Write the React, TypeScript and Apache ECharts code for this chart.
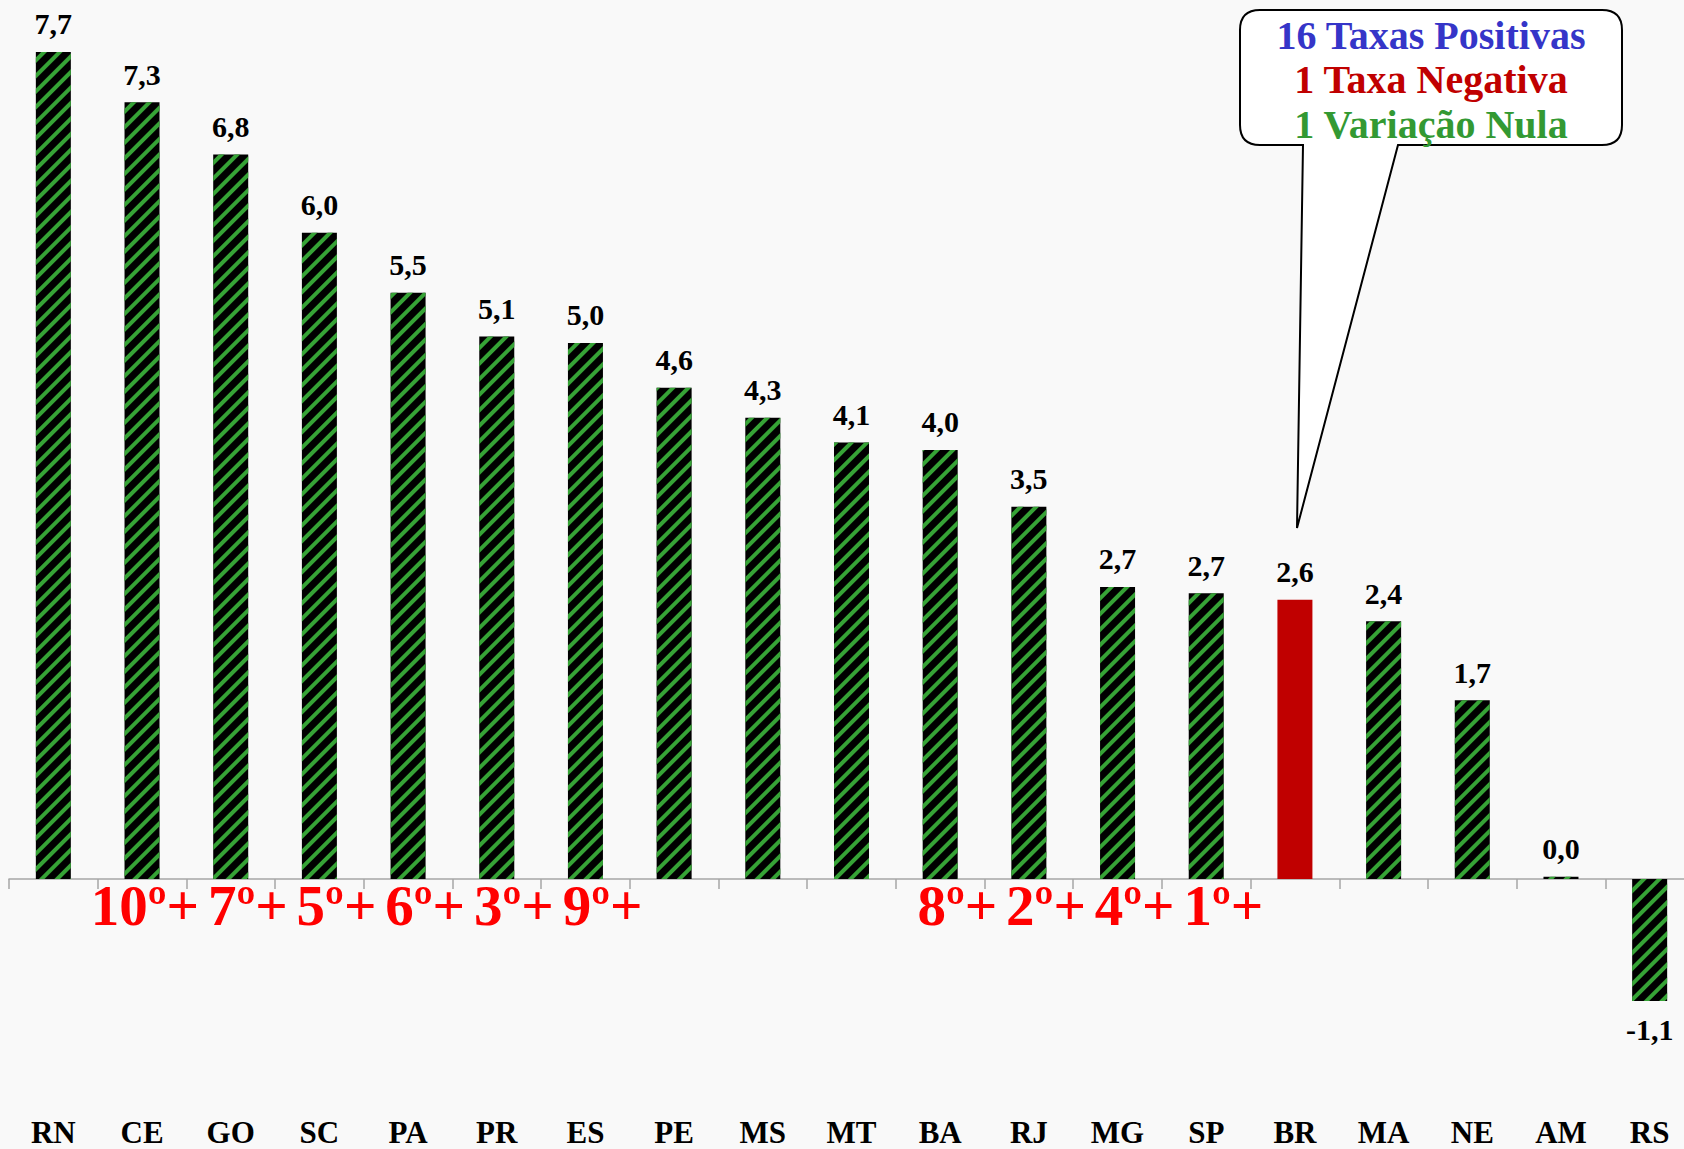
import React, { useEffect, useRef } from "react";
import * as echarts from "echarts";

const categories = ["RN", "CE", "GO", "SC", "PA", "PR", "ES", "PE", "MS", "MT", "BA", "RJ", "MG", "SP", "BR", "MA", "NE", "AM", "RS"];
const values = [7.73, 7.26, 6.77, 6.04, 5.48, 5.07, 5.01, 4.59, 4.31, 4.08, 4.01, 3.48, 2.73, 2.67, 2.61, 2.41, 1.67, 0.02, -1.14];
const rankLabels = ["", "10º+", "7º+", "5º+", "6º+", "3º+", "9º+", "", "", "", "8º+", "2º+", "4º+", "1º+", "", "", "", "", ""];
const highlightCategory = "BR";
const calloutLines = ["16 Taxas Positivas", "1 Taxa Negativa", "1 Variação Nula"];
const calloutColors = ["#3535C8", "#C00000", "#339933"];

const CALLOUT_PATH =
  "M20,0 H362 Q382,0 382,20 V115 Q382,135 362,135 H158 L57,518 L63,135 H20 Q0,135 0,115 V20 Q0,0 20,0 Z";

let registered = false;
function ensureShape() {
  if (registered) return;
  echarts.graphic.registerShape("callout", echarts.graphic.extendPath(CALLOUT_PATH, {}));
  registered = true;
}

const SERIF = '"Liberation Serif", "Times New Roman", serif';

export default function App() {
  const ref = useRef<HTMLDivElement>(null);

  useEffect(() => {
    if (!ref.current) return;
    ensureShape();
    const chart = echarts.init(ref.current, undefined, { renderer: "svg" });

    const barData = values.map((v, i) => {
      const item: any = { value: v };
      if (categories[i] === highlightCategory) {
        item.itemStyle = { color: "#C00000", decal: { symbol: "none", color: "rgba(0,0,0,0)" } };
      }
      if (v < 0) {
        item.label = { position: "bottom", distance: 14 };
      }
      return item;
    });

    const rankData = categories.map((c) => [c, 0]);

    const lineY = [35, 79, 124];

    chart.setOption({
      animation: false,
      backgroundColor: "#f9f9f9",
      grid: { left: 9, top: 23, width: 1685, height: 1070, containLabel: false },
      xAxis: [
        {
          type: "category",
          data: categories,
          position: "bottom",
          axisLine: { onZero: true, lineStyle: { color: "#a6a6a6", width: 1.5 } },
          axisTick: { show: true, length: 10, lineStyle: { color: "#a6a6a6", width: 1.5 } },
          axisLabel: { show: false },
          splitLine: { show: false },
        },
        {
          type: "category",
          data: categories,
          position: "bottom",
          axisLine: { show: false, onZero: false },
          axisTick: { show: false },
          axisLabel: {
            interval: 0,
            margin: 24,
            color: "#000",
            fontFamily: SERIF,
            fontWeight: "bold",
            fontSize: 31,
          },
          splitLine: { show: false },
        },
      ],
      yAxis: {
        type: "value",
        min: -2,
        max: 8,
        show: false,
        splitLine: { show: false },
      },
      series: [
        {
          type: "bar",
          xAxisIndex: 0,
          data: barData,
          barWidth: 35,
          itemStyle: {
            color: "#000000",
            decal: {
              symbol: "rect",
              symbolSize: 1,
              color: "#36a336",
              dashArrayX: [1, 0],
              dashArrayY: [3.6, 7],
              rotation: -Math.PI / 4,
            },
          },
          label: {
            show: true,
            position: "top",
            distance: 13,
            color: "#000",
            fontFamily: SERIF,
            fontWeight: "bold",
            fontSize: 30,
            formatter: (p: any) => Number(p.value).toFixed(1).replace(".", ","),
          },
        },
        {
          type: "scatter",
          xAxisIndex: 0,
          silent: true,
          symbolSize: 0,
          itemStyle: { opacity: 1 },
          data: rankData,
          label: {
            show: true,
            position: [57, -2],
            align: "right",
            verticalAlign: "top",
            color: "#ff0000",
            opacity: 1,
            fontFamily: SERIF,
            fontWeight: "bold",
            fontSize: 57,
            formatter: (p: any) => rankLabels[p.dataIndex],
          },
        },
      ],
      graphic: [
        {
          type: "group",
          z: 100,
          children: [
            {
              type: "callout",
              x: 1240,
              y: 10,
              scaleX: 1,
              scaleY: 1,
              style: { fill: "#ffffff", stroke: "#000000", lineWidth: 2 },
            },
            ...calloutLines.map((t, i) => ({
              type: "text",
              x: 1431,
              y: lineY[i],
              style: {
                text: t,
                fill: calloutColors[i],
                font: `bold 40px ${SERIF}`,
                textAlign: "center",
                textVerticalAlign: "middle",
              },
            })),
          ],
        },
      ],
    });

    return () => chart.dispose();
  }, []);

  return (
    <div
      style={{ position: "absolute", left: 0, top: 0, width: 1684, height: 1149, overflow: "hidden", background: "#f9f9f9" }}
    >
      <div ref={ref} style={{ position: "absolute", left: 0, top: 0, width: 1694, height: 1149 }} />
    </div>
  );
}
